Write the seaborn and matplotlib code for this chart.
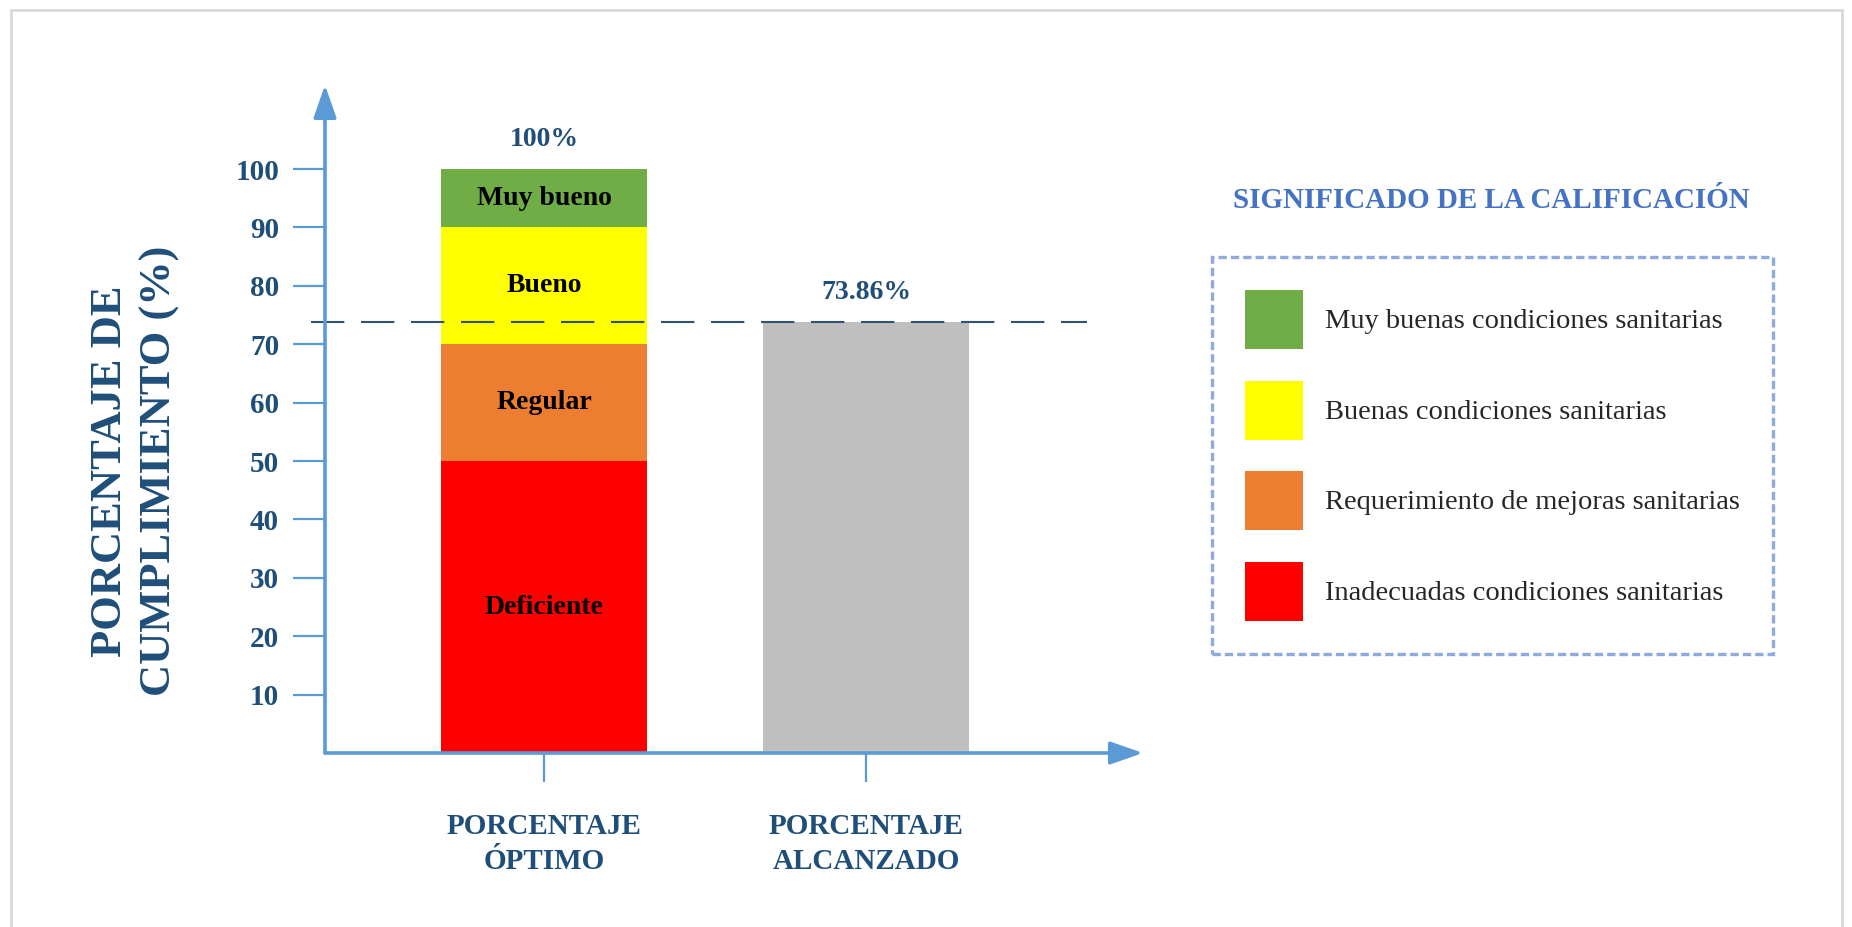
import numpy as np
import pandas as pd
import matplotlib
matplotlib.use("Agg")
import matplotlib.pyplot as plt
import seaborn as sns
from matplotlib.patches import Patch, Rectangle

# Rating bands of the optimum column, from bottom to top
niveles = ["Deficiente", "Regular", "Bueno", "Muy bueno"]
tramos = [50, 20, 20, 10]
colores_tramos = ["#FF0000", "#ED7D31", "#FFFF00", "#70AD47"]

# Columns and values
categorias = ["PORCENTAJE\nÓPTIMO", "PORCENTAJE\nALCANZADO"]
valor_alcanzado = 73.86
etiquetas_valor = ["100%", "73.86%"]
color_alcanzado = "#BFBFBF"

# Axis and legend texts
ticks_y = [10, 20, 30, 40, 50, 60, 70, 80, 90, 100]
titulo_y = "PORCENTAJE DE\nCUMPLIMIENTO (%)"
titulo_leyenda = "SIGNIFICADO DE LA CALIFICACIÓN"
significados = [
    "Muy buenas condiciones sanitarias",
    "Buenas condiciones sanitarias",
    "Requerimiento de mejoras sanitarias",
    "Inadecuadas condiciones sanitarias",
]

AZUL_EJE = "#5B9BD5"
AZUL_TEXTO = "#1F4E79"

sns.set_theme(style="white")
plt.rcParams["font.family"] = ["Liberation Serif", "DejaVu Serif"]

W, H = 1852, 927
fig = plt.figure(figsize=(W / 100, H / 100), dpi=100)
fig.patch.set_facecolor("white")

# axes box in pixels: left 325, right 1143, top 85, bottom 753
ax = fig.add_axes([325 / W, (H - 753) / H, 818 / W, 668 / H])
ax.set_facecolor("white")

ancho = 0.637

# Stacked optimum column: draw cumulative heights, tallest first
tope = np.cumsum(tramos)
base = tope - np.array(tramos)
df_tramos = pd.DataFrame({"categoria": categorias[0], "tope": tope,
                          "nivel": niveles, "color": colores_tramos})
for _, fila in df_tramos.iloc[::-1].iterrows():
    sns.barplot(x=[fila["categoria"]], y=[fila["tope"]], order=categorias,
                color=fila["color"], saturation=1, width=ancho,
                linewidth=0, ax=ax, zorder=2)

# Achieved column
df_alc = pd.DataFrame({"categoria": [categorias[1]], "valor": [valor_alcanzado]})
sns.barplot(data=df_alc, x="categoria", y="valor", order=categorias,
            color=color_alcanzado, saturation=1, width=ancho,
            linewidth=0, ax=ax, zorder=2)

# Band names in the middle of each segment
for nivel, b, t in zip(niveles, base, tramos):
    ax.text(0, b + t / 2, nivel, ha="center", va="center",
            fontsize=20, fontweight="bold", color="black", zorder=4)

# Value labels above the columns
for i, (val, txt) in enumerate(zip([tope[-1], valor_alcanzado], etiquetas_valor)):
    ax.annotate(txt, xy=(i, val), xytext=(0, 21), textcoords="offset points",
                ha="center", va="center", fontsize=20, fontweight="bold",
                color=AZUL_TEXTO, annotation_clip=False)

# Reference line at the achieved level
ax.hlines(valor_alcanzado, -0.724, 1.686, colors="#2F5375", linewidth=1.5,
          linestyles=[(0, (16, 8))], clip_on=False, zorder=5)

ax.set_xlim(-0.680, 1.860)
ax.set_ylim(0, 114.4)

for s in ax.spines.values():
    s.set_visible(False)

# Arrow-headed axes
flecha = dict(arrowstyle="-|>,head_length=0.8,head_width=0.28", color=AZUL_EJE,
              lw=2.6, mutation_scale=25, shrinkA=0, shrinkB=0)
ax.annotate("", xy=(0, 1), xytext=(0, 0), xycoords="axes fraction",
            arrowprops=flecha, annotation_clip=False, zorder=6)
ax.annotate("", xy=(1, 0), xytext=(0, 0), xycoords="axes fraction",
            arrowprops=flecha, annotation_clip=False, zorder=6)

ax.set_yticks(ticks_y, [str(v) for v in ticks_y], fontweight="bold")
ax.tick_params(axis="y", left=True, length=23, width=1.6, color=AZUL_EJE,
               pad=10, labelsize=21, labelcolor=AZUL_TEXTO)
ax.set_xticks([0, 1], categorias, fontweight="bold")
ax.tick_params(axis="x", bottom=True, length=21, width=1.6, color=AZUL_EJE,
               pad=22, labelsize=21, labelcolor=AZUL_TEXTO)
for lab in ax.get_xticklabels():
    lab.set_linespacing(1.4)
    lab.set_multialignment("center")
ax.set_xlabel("")
ax.grid(False)

ax.set_ylabel(titulo_y, fontsize=32, fontweight="bold", color=AZUL_TEXTO,
              linespacing=1.28, va="center", ha="center", multialignment="center")
ax.yaxis.set_label_coords((135 - 325) / 818, (753 - 471) / 668)

# Legend with dashed frame
handles = [Patch(facecolor=c, edgecolor="none", linewidth=0)
           for c in colores_tramos[::-1]]
leg = fig.legend(handles, significados, loc="upper left",
                 bbox_to_anchor=(1212 / W, (H - 257) / H),
                 frameon=True, fancybox=False, borderaxespad=0,
                 prop={"family": ["Liberation Serif"], "size": 20.5},
                 handlelength=2.03, handleheight=2.81, handletextpad=0.8,
                 labelspacing=1.12, borderpad=1.15)
frame = leg.get_frame()
frame.set_edgecolor("#8FAADC")
frame.set_linewidth(2.4)
frame.set_linestyle((0, (2.5, 1.2)))
frame.set_facecolor("white")
frame.set_alpha(None)

fig.text(1491 / W, (H - 200) / H, titulo_leyenda, ha="center", va="center",
         fontsize=20.9, fontweight="bold", color="#4472C4")

# Light outer frame
fig.add_artist(Rectangle((11 / W, -0.05), (1842 - 11) / W, (H - 10) / H + 0.05,
                         transform=fig.transFigure, fill=False,
                         edgecolor="#D9D9D9", linewidth=2))

fig.savefig("out.png", dpi=100, facecolor="white")
